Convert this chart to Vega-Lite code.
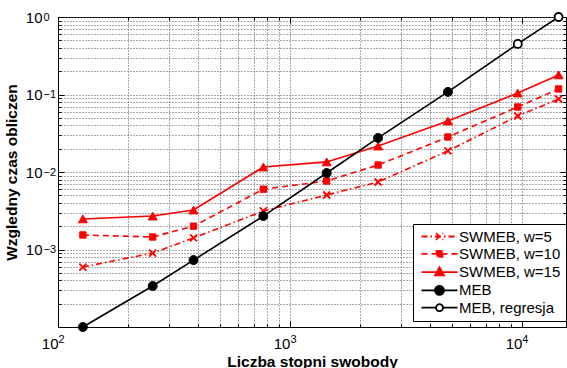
{
  "$schema": "https://vega.github.io/schema/vega-lite/v6.json",
  "autosize": "none",
  "width": 508,
  "height": 310,
  "padding": {"left": 58, "top": 17, "right": 1, "bottom": 41},
  "background": "white",
  "config": {
    "view": {"stroke": "black", "strokeWidth": 1},
    "axis": {
      "domainColor": "black", "domainWidth": 1, "tickColor": "black", "tickWidth": 1,
      "labelFont": "Liberation Sans", "labelFontSize": 15, "labelColor": "black",
      "titleFont": "Liberation Sans", "titleFontSize": 15.5, "titleFontWeight": "bold", "titleColor": "black",
      "gridColor": "#555", "gridDash": [1, 2], "gridWidth": 1,
      "labelOverlap": false, "labelFlush": false
    },
    "legend": {
      "labelFont": "Liberation Sans", "labelFontSize": 15, "labelColor": "black",
      "strokeColor": "black", "fillColor": "white", "padding": 5,
      "symbolStrokeWidth": 1.8, "labelOffset": 12, "symbolOffset": 14, "rowPadding": 1.3
    }
  },
  "data": {"values": [
    {"n": 128, "t": 0.000594, "series": "SWMEB, w=5"},
    {"n": 256, "t": 0.00090, "series": "SWMEB, w=5"},
    {"n": 384, "t": 0.00141, "series": "SWMEB, w=5"},
    {"n": 768, "t": 0.00314, "series": "SWMEB, w=5"},
    {"n": 1440, "t": 0.00505, "series": "SWMEB, w=5"},
    {"n": 2400, "t": 0.00743, "series": "SWMEB, w=5"},
    {"n": 4800, "t": 0.0187, "series": "SWMEB, w=5"},
    {"n": 9600, "t": 0.0528, "series": "SWMEB, w=5"},
    {"n": 14400, "t": 0.0875, "series": "SWMEB, w=5"},
    {"n": 128, "t": 0.00154, "series": "SWMEB, w=10"},
    {"n": 256, "t": 0.00145, "series": "SWMEB, w=10"},
    {"n": 384, "t": 0.0020, "series": "SWMEB, w=10"},
    {"n": 768, "t": 0.0060, "series": "SWMEB, w=10"},
    {"n": 1440, "t": 0.00765, "series": "SWMEB, w=10"},
    {"n": 2400, "t": 0.0123, "series": "SWMEB, w=10"},
    {"n": 4800, "t": 0.0283, "series": "SWMEB, w=10"},
    {"n": 9600, "t": 0.069, "series": "SWMEB, w=10"},
    {"n": 14400, "t": 0.118, "series": "SWMEB, w=10"},
    {"n": 128, "t": 0.00248, "series": "SWMEB, w=15"},
    {"n": 256, "t": 0.0027, "series": "SWMEB, w=15"},
    {"n": 384, "t": 0.00323, "series": "SWMEB, w=15"},
    {"n": 768, "t": 0.0116, "series": "SWMEB, w=15"},
    {"n": 1440, "t": 0.0135, "series": "SWMEB, w=15"},
    {"n": 2400, "t": 0.0216, "series": "SWMEB, w=15"},
    {"n": 4800, "t": 0.0455, "series": "SWMEB, w=15"},
    {"n": 9600, "t": 0.1045, "series": "SWMEB, w=15"},
    {"n": 14400, "t": 0.179, "series": "SWMEB, w=15"},
    {"n": 128, "t": 0.0001, "series": "MEB"},
    {"n": 256, "t": 0.000338, "series": "MEB"},
    {"n": 384, "t": 0.00073, "series": "MEB"},
    {"n": 768, "t": 0.0027, "series": "MEB"},
    {"n": 1440, "t": 0.0097, "series": "MEB"},
    {"n": 2400, "t": 0.0275, "series": "MEB"},
    {"n": 4800, "t": 0.108, "series": "MEB"},
    {"n": 9600, "t": 0.449, "series": "MEB, regresja"},
    {"n": 14400, "t": 1.0, "series": "MEB, regresja"}
  ]},
  "resolve": {"axis": {"x": "independent", "y": "independent"}},
  "layer": [
    {
      "transform": [{"filter": "datum.series == 'SWMEB, w=5'"}],
      "mark": {"type": "line", "color": "red", "strokeWidth": 1.6, "strokeDash": [6, 3, 1.5, 3]},
      "encoding": {
        "x": {"field": "n", "type": "quantitative",
          "scale": {"type": "log", "domain": [100, 15500], "nice": false},
          "axis": {"orient": "bottom", "title": "Liczba stopni swobody", "ticks": false,
            "values": [100,200,300,400,500,600,700,800,900,1000,2000,3000,4000,5000,6000,7000,8000,9000,10000],
            "labelExpr": "datum.value == 100 || datum.value == 1000 || datum.value == 10000 ? '10' : ''",
            "labelAlign": "right", "labelDx": 5, "labelPadding": 9, "titlePadding": 3, "grid": true}},
        "y": {"field": "t", "type": "quantitative",
          "scale": {"type": "log", "domain": [0.0001, 1], "nice": false},
          "axis": {"orient": "left", "title": "Wzgledny czas obliczen", "ticks": false,
            "values": [0.0001,0.0002,0.0003,0.0004,0.0005,0.0006,0.0007,0.0008,0.0009,0.001,0.002,0.003,0.004,0.005,0.006,0.007,0.008,0.009,0.01,0.02,0.03,0.04,0.05,0.06,0.07,0.08,0.09,0.1,0.2,0.3,0.4,0.5,0.6,0.7,0.8,0.9,1],
            "labelExpr": "datum.value == 1 || datum.value == 0.1 || datum.value == 0.01 || datum.value == 0.001 ? '10' : ''",
            "labelDy": 3, "labelPadding": 16, "titlePadding": 6, "grid": true}}
      }
    },
    {
      "transform": [{"filter": "datum.series == 'SWMEB, w=10'"}],
      "mark": {"type": "line", "color": "red", "strokeWidth": 1.6, "strokeDash": [6, 4]},
      "encoding": {
        "x": {"field": "n", "type": "quantitative",
          "axis": {"orient": "bottom", "title": null, "ticks": false, "domain": false, "grid": false,
            "values": [100, 1000, 10000],
            "labelExpr": "datum.value == 100 ? '2' : datum.value == 1000 ? '3' : '4'",
            "labelAlign": "left", "labelBaseline": "top", "labelDx": 7, "labelPadding": 6, "labelFontSize": 11}},
        "y": {"field": "t", "type": "quantitative",
          "axis": {"orient": "left", "title": null, "ticks": false, "domain": false, "grid": false,
            "values": [0.001, 0.01, 0.1, 1],
            "labelExpr": "datum.value == 1 ? '0' : datum.value == 0.1 ? '−1' : datum.value == 0.01 ? '−2' : '−3'",
            "labelAlign": "left", "labelBaseline": "middle", "labelDy": -2, "labelPadding": 15, "labelFontSize": 11}}
      }
    },
    {
      "transform": [{"filter": "datum.series == 'SWMEB, w=15'"}],
      "mark": {"type": "line", "color": "red", "strokeWidth": 1.6},
      "encoding": {
        "x": {"field": "n", "type": "quantitative",
          "axis": {"orient": "bottom", "title": null, "labels": false, "domain": false, "grid": false,
            "values": [100,200,300,400,500,600,700,800,900,1000,2000,3000,4000,5000,6000,7000,8000,9000,10000],
            "tickSize": {"condition": {"test": "datum.value == 100 || datum.value == 1000 || datum.value == 10000", "value": -6}, "value": -3}}},
        "y": {"field": "t", "type": "quantitative",
          "axis": {"orient": "left", "title": null, "labels": false, "domain": false, "grid": false,
            "values": [0.0001,0.0002,0.0003,0.0004,0.0005,0.0006,0.0007,0.0008,0.0009,0.001,0.002,0.003,0.004,0.005,0.006,0.007,0.008,0.009,0.01,0.02,0.03,0.04,0.05,0.06,0.07,0.08,0.09,0.1,0.2,0.3,0.4,0.5,0.6,0.7,0.8,0.9,1],
            "tickSize": {"condition": {"test": "datum.value == 1 || datum.value == 0.1 || datum.value == 0.01 || datum.value == 0.001 || datum.value == 0.0001", "value": -6}, "value": -3}}}
      }
    },
    {
      "transform": [{"filter": "datum.series == 'MEB' || datum.series == 'MEB, regresja'"}],
      "mark": {"type": "line", "color": "black", "strokeWidth": 1.6},
      "encoding": {"x": {"field": "n", "type": "quantitative", "axis": null}, "y": {"field": "t", "type": "quantitative", "axis": null}}
    },
    {
      "transform": [{"filter": "datum.series == 'SWMEB, w=5'"}],
      "mark": {"type": "point", "shape": "M-1,-1L1,1M-1,1L1,-1", "size": 49, "stroke": "red", "strokeWidth": 1.8, "filled": false, "opacity": 1},
      "encoding": {"x": {"field": "n", "type": "quantitative", "axis": null}, "y": {"field": "t", "type": "quantitative", "axis": null}}
    },
    {
      "transform": [{"filter": "datum.series == 'SWMEB, w=10'"}],
      "mark": {"type": "point", "shape": "square", "size": 40, "fill": "red", "stroke": "red", "strokeWidth": 1, "filled": true, "opacity": 1},
      "encoding": {"x": {"field": "n", "type": "quantitative", "axis": null}, "y": {"field": "t", "type": "quantitative", "axis": null}}
    },
    {
      "transform": [{"filter": "datum.series == 'SWMEB, w=15'"}],
      "mark": {"type": "point", "shape": "triangle-up", "size": 80, "fill": "red", "stroke": "red", "strokeWidth": 1, "filled": true, "opacity": 1},
      "encoding": {"x": {"field": "n", "type": "quantitative", "axis": null}, "y": {"field": "t", "type": "quantitative", "axis": null}}
    },
    {
      "transform": [{"filter": "datum.series == 'MEB'"}],
      "mark": {"type": "point", "shape": "circle", "size": 80, "fill": "black", "stroke": "black", "strokeWidth": 1, "filled": true, "opacity": 1},
      "encoding": {"x": {"field": "n", "type": "quantitative", "axis": null}, "y": {"field": "t", "type": "quantitative", "axis": null}}
    },
    {
      "transform": [{"filter": "datum.series == 'MEB, regresja'"}],
      "mark": {"type": "point", "shape": "circle", "size": 64, "fill": "white", "stroke": "black", "strokeWidth": 1.8, "filled": true, "opacity": 1},
      "encoding": {"x": {"field": "n", "type": "quantitative", "axis": null}, "y": {"field": "t", "type": "quantitative", "axis": null}}
    },
    {
      "mark": {"type": "point", "opacity": 0, "filled": true, "strokeWidth": 1.8},
      "encoding": {
        "x": {"field": "n", "type": "quantitative",
          "axis": {"orient": "top", "title": null, "labels": false, "grid": false, "domain": false,
            "values": [100,200,300,400,500,600,700,800,900,1000,2000,3000,4000,5000,6000,7000,8000,9000,10000],
            "tickSize": {"condition": {"test": "datum.value == 100 || datum.value == 1000 || datum.value == 10000", "value": -6}, "value": -3}}},
        "y": {"field": "t", "type": "quantitative",
          "axis": {"orient": "right", "title": null, "labels": false, "grid": false, "domain": false,
            "values": [0.0001,0.0002,0.0003,0.0004,0.0005,0.0006,0.0007,0.0008,0.0009,0.001,0.002,0.003,0.004,0.005,0.006,0.007,0.008,0.009,0.01,0.02,0.03,0.04,0.05,0.06,0.07,0.08,0.09,0.1,0.2,0.3,0.4,0.5,0.6,0.7,0.8,0.9,1],
            "tickSize": {"condition": {"test": "datum.value == 1 || datum.value == 0.1 || datum.value == 0.01 || datum.value == 0.001 || datum.value == 0.0001", "value": -6}, "value": -3}}},
        "shape": {"field": "series", "type": "nominal",
          "scale": {"domain": ["SWMEB, w=5", "SWMEB, w=10", "SWMEB, w=15", "MEB", "MEB, regresja"],
            "range": [
              "M-3,0H3M-0.58,-0.58L0.58,0.58M-0.58,0.58L0.58,-0.58",
              "M-3,0H3M-0.5,-0.5H0.5V0.5H-0.5Z",
              "M-3,0H3M0,-0.8L0.75,0.55H-0.75Z",
              "M-3,0H3M0.75,0A0.75,0.75,0,1,1,-0.75,0A0.75,0.75,0,1,1,0.75,0Z",
              "M-3,0H-0.58M0.58,0H3M0.58,0A0.58,0.58,0,1,1,-0.58,0A0.58,0.58,0,1,1,0.58,0Z"
            ]},
          "legend": {"title": null, "orient": "none", "legendX": 355, "legendY": 207, "symbolSize": 144,
            "encode": {"symbols": {"update": {"fill": {"scale": "fill", "field": "value"}, "stroke": {"scale": "stroke", "field": "value"}, "opacity": {"value": 1}, "fillOpacity": {"value": 1}, "strokeOpacity": {"value": 1}}}}}},
        "fill": {"field": "series", "type": "nominal",
          "scale": {"domain": ["SWMEB, w=5", "SWMEB, w=10", "SWMEB, w=15", "MEB", "MEB, regresja"],
            "range": ["red", "red", "red", "black", "white"]},
          "legend": {"title": null, "orient": "none", "legendX": 355, "legendY": 207, "symbolSize": 144,
            "encode": {"symbols": {"update": {"fill": {"scale": "fill", "field": "value"}, "stroke": {"scale": "stroke", "field": "value"}, "opacity": {"value": 1}, "fillOpacity": {"value": 1}, "strokeOpacity": {"value": 1}}}}}},
        "stroke": {"field": "series", "type": "nominal",
          "scale": {"domain": ["SWMEB, w=5", "SWMEB, w=10", "SWMEB, w=15", "MEB", "MEB, regresja"],
            "range": ["red", "red", "red", "black", "black"]},
          "legend": {"title": null, "orient": "none", "legendX": 355, "legendY": 207, "symbolSize": 144,
            "encode": {"symbols": {"update": {"fill": {"scale": "fill", "field": "value"}, "stroke": {"scale": "stroke", "field": "value"}, "opacity": {"value": 1}, "fillOpacity": {"value": 1}, "strokeOpacity": {"value": 1}}}}}},
        "strokeDash": {"field": "series", "type": "nominal",
          "scale": {"domain": ["SWMEB, w=5", "SWMEB, w=10", "SWMEB, w=15", "MEB", "MEB, regresja"],
            "range": [[6, 3, 1.5, 3], [6, 4], [1, 0], [1, 0], [1, 0]]},
          "legend": {"title": null, "orient": "none", "legendX": 355, "legendY": 207, "symbolSize": 144,
            "encode": {"symbols": {"update": {"fill": {"scale": "fill", "field": "value"}, "stroke": {"scale": "stroke", "field": "value"}, "opacity": {"value": 1}, "fillOpacity": {"value": 1}, "strokeOpacity": {"value": 1}}}}}}
      }
    }
  ]
}
